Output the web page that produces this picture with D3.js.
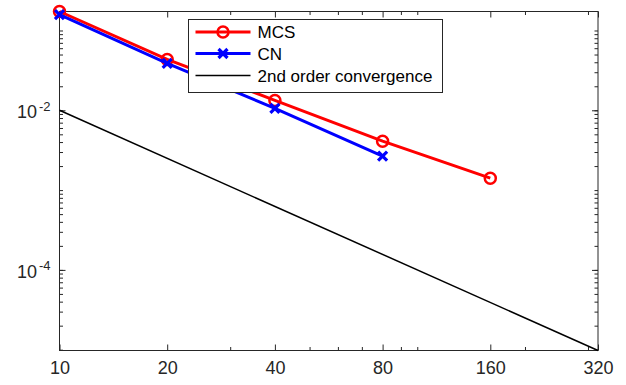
<!DOCTYPE html>
<html>
<head>
<meta charset="utf-8">
<script src="https://cdn.jsdelivr.net/npm/d3@7"></script>
<style>
  body { margin: 0; background: #fff; }
  svg { font-family: "Liberation Sans", Arial, sans-serif; }
</style>
</head>
<body>
<div id="chart"></div>
<script>
// grid sizes (x) and errors
var xTicks = [10, 20, 40, 80, 160, 320]
var xMinor = [30, 50, 60, 70, 90, 100, 200, 300]
var mcsN = [10, 20, 40, 80, 160]
var mcsErr = [0.173, 0.0434, 0.0133, 0.0041, 0.00141]
var cnN = [10, 20, 40, 80]
var cnErr = [0.158, 0.0387, 0.0106, 0.00266]
var refN = [10, 320]
var refErr = [0.01, 0.00000977]
var yTicks = [1e-4, 1e-2]
var yTickLabels = ['-4', '-2']
var seriesNames = ['MCS', 'CN', '2nd order convergence']

var width = 626, height = 385
var margin = { top: 11.5, right: 28, bottom: 34.5, left: 59.5 }

var svg = d3.select('#chart').append('svg')
    .attr('width', width)
    .attr('height', height)

var x = d3.scaleLog().base(2)
    .domain([10, 320])
    .range([margin.left, width - margin.right])

var y = d3.scaleLog()
    .domain([0.00000977, 0.173])
    .range([height - margin.bottom, margin.top])

// minor ticks on y: 1..9 x 10^k
var yMinor = []
for (var k = -6; k <= -1; k++) {
  for (var m = 1; m <= 9; m++) {
    var v = m * Math.pow(10, k)
    if (v >= y.domain()[0] && v <= y.domain()[1]) yMinor.push(v)
  }
}

var axisColor = '#262626'

function styleAxis(g) {
  g.select('.domain').remove()
  g.selectAll('line').attr('stroke', axisColor).attr('stroke-width', 1)
  g.selectAll('text').attr('fill', axisColor)
}

// bottom axis, ticks pointing in
svg.append('g')
    .attr('transform', 'translate(0,' + (height - margin.bottom) + ')')
    .call(d3.axisBottom(x).tickValues(xTicks).tickSize(-6).tickPadding(11).tickFormat(d3.format('d')))
    .call(styleAxis)
    .selectAll('text').style('font-size', '18px')

svg.append('g')
    .attr('transform', 'translate(0,' + (height - margin.bottom) + ')')
    .call(d3.axisBottom(x).tickValues(xMinor).tickSize(-3.5).tickFormat(''))
    .call(styleAxis)

// top axis mirror
svg.append('g')
    .attr('transform', 'translate(0,' + margin.top + ')')
    .call(d3.axisTop(x).tickValues(xTicks).tickSize(-6).tickFormat(''))
    .call(styleAxis)
svg.append('g')
    .attr('transform', 'translate(0,' + margin.top + ')')
    .call(d3.axisTop(x).tickValues(xMinor).tickSize(-3.5).tickFormat(''))
    .call(styleAxis)

// left axis
var left = svg.append('g')
    .attr('transform', 'translate(' + margin.left + ',0)')
    .call(d3.axisLeft(y).tickValues(yTicks).tickSize(-6).tickPadding(9).tickFormat(''))
    .call(styleAxis)

left.selectAll('.tick').each(function (d, i) {
  var t = d3.select(this).select('text')
      .style('font-size', '18px')
      .attr('dy', '0.4em')
  t.append('tspan').text('10')
  t.append('tspan').attr('dy', '-0.55em').attr('dx', '0.15em').style('font-size', '13px').text(yTickLabels[i])
})

svg.append('g')
    .attr('transform', 'translate(' + margin.left + ',0)')
    .call(d3.axisLeft(y).tickValues(yMinor).tickSize(-3.5).tickFormat(''))
    .call(styleAxis)

// right axis mirror
svg.append('g')
    .attr('transform', 'translate(' + (width - margin.right) + ',0)')
    .call(d3.axisRight(y).tickValues(yTicks).tickSize(-6).tickFormat(''))
    .call(styleAxis)
svg.append('g')
    .attr('transform', 'translate(' + (width - margin.right) + ',0)')
    .call(d3.axisRight(y).tickValues(yMinor).tickSize(-3.5).tickFormat(''))
    .call(styleAxis)

// box
svg.append('rect')
    .attr('x', margin.left)
    .attr('y', margin.top)
    .attr('width', width - margin.left - margin.right)
    .attr('height', height - margin.top - margin.bottom)
    .attr('fill', 'none')
    .attr('stroke', axisColor)
    .attr('stroke-width', 1)

var line = d3.line()
    .x(function (d) { return x(d[0]) })
    .y(function (d) { return y(d[1]) })

var mcs = d3.zip(mcsN, mcsErr)
var cn = d3.zip(cnN, cnErr)
var ref = d3.zip(refN, refErr)

function circleMarker(g, cx, cy) {
  g.append('circle')
      .attr('cx', cx).attr('cy', cy).attr('r', 5.5)
      .attr('fill', 'none').attr('stroke', '#ff0000').attr('stroke-width', 2.5)
}

function crossMarker(g, cx, cy) {
  var s = 4.5
  g.append('path')
      .attr('d', 'M' + (cx - s) + ',' + (cy - s) + 'L' + (cx + s) + ',' + (cy + s) +
                 'M' + (cx - s) + ',' + (cy + s) + 'L' + (cx + s) + ',' + (cy - s))
      .attr('stroke', '#0000ff').attr('stroke-width', 3.2).attr('fill', 'none')
}

// MCS
svg.append('path')
    .datum(mcs)
    .attr('d', line)
    .attr('fill', 'none')
    .attr('stroke', '#ff0000')
    .attr('stroke-width', 3)
var mcsG = svg.append('g')
mcs.forEach(function (d) { circleMarker(mcsG, x(d[0]), y(d[1])) })

// CN
svg.append('path')
    .datum(cn)
    .attr('d', line)
    .attr('fill', 'none')
    .attr('stroke', '#0000ff')
    .attr('stroke-width', 3)
var cnG = svg.append('g')
cn.forEach(function (d) { crossMarker(cnG, x(d[0]), y(d[1])) })

// reference slope
svg.append('path')
    .datum(ref)
    .attr('d', line)
    .attr('fill', 'none')
    .attr('stroke', '#000')
    .attr('stroke-width', 1.5)

// legend
var legend = svg.append('g').attr('transform', 'translate(188.5,19.5)')
legend.append('rect')
    .attr('width', 254)
    .attr('height', 73)
    .attr('fill', '#fff')
    .attr('stroke', axisColor)
    .attr('stroke-width', 1)

var rows = [12.5, 34, 56]
var colors = ['#ff0000', '#0000ff', '#000']
var widths = [3, 3, 1.5]
rows.forEach(function (ry, i) {
  legend.append('line')
      .attr('x1', 7).attr('x2', 62).attr('y1', ry).attr('y2', ry)
      .attr('stroke', colors[i]).attr('stroke-width', widths[i])
  if (i === 0) circleMarker(legend, 34.5, ry)
  if (i === 1) crossMarker(legend, 34.5, ry)
  legend.append('text')
      .attr('x', 69).attr('y', ry)
      .attr('dy', '0.36em')
      .style('font-size', '17px')
      .attr('fill', '#000')
      .text(seriesNames[i])
})
</script>
</body>
</html>
